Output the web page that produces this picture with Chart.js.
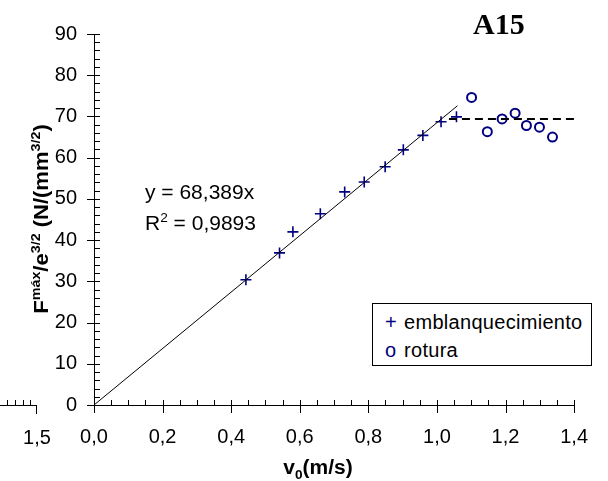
<!DOCTYPE html>
<html>
<head>
<meta charset="utf-8">
<script src="https://cdn.jsdelivr.net/npm/chart.js@4"></script>
<style>
  body { margin: 0; background: #fff; }
  #wrap { position: relative; width: 608px; height: 481px; font-family: 'Liberation Sans', Arial, sans-serif; color: #000; }
  #wrap canvas { position: absolute; left: 0; top: 0; }
  .txt { position: absolute; white-space: nowrap; line-height: 1; }
  .txt sup, .txt sub { font-size: 0.65em; line-height: 0; }
  #ytitle { left: 41px; top: 219px; font-weight: bold; font-size: 20px; transform: translate(-50%, -50%) rotate(-90deg) scaleX(1.1); }
  #xtitle { left: 318px; top: 467px; font-weight: bold; font-size: 20px; transform: translate(-50%, -50%) scaleX(1.05); }
  #plotTitle { left: 473px; top: 9px; font-family: 'Liberation Serif', 'Times New Roman', serif; font-weight: bold; font-size: 30px; }
  #eq1 { left: 145px; top: 182px; font-size: 20px; transform-origin: left; transform: scaleX(1.05); }
  #eq2 { left: 145px; top: 213px; font-size: 20px; transform-origin: left; transform: scaleX(1.05); }
  #frag { left: 37px; top: 437px; font-size: 20px; transform: translate(-50%, -50%); }
  #legend { position: absolute; left: 372px; top: 303px; width: 218px; height: 61px; border: 1px solid #000; background: #fff; font-size: 20px; }
  #legend div { position: absolute; left: 12px; white-space: nowrap; }
  #legend .lbl { letter-spacing: 0.3px; }
  #legend .mk { color: #000080; display: inline-block; width: 19px; }
</style>
</head>
<body>
<div id="wrap">
  <canvas id="chart" width="608" height="481"></canvas>
  <div class="txt" id="plotTitle">A15</div>
  <div class="txt" id="ytitle">F<sup>máx</sup>/e<sup>3/2</sup> (N/(mm<sup>3/2</sup>)</div>
  <div class="txt" id="xtitle">v<sub>0</sub>(m/s)</div>
  <div class="txt" id="eq1">y = 68,389x</div>
  <div class="txt" id="eq2">R<sup>2</sup> = 0,9893</div>
  <div class="txt" id="frag">1,5</div>
  <div id="legend">
    <div style="top:7px"><span class="mk">+</span><span class="lbl">emblanquecimiento</span></div>
    <div style="top:35px"><span class="mk">o</span><span class="lbl">rotura</span></div>
  </div>
</div>
<script>
// Datos
const blanqX = [0.443, 0.541, 0.580, 0.660, 0.731, 0.788, 0.849, 0.902, 0.959, 1.012, 1.057];
const blanqY = [30.4, 36.9, 42.0, 46.4, 51.7, 54.1, 57.8, 61.9, 65.4, 68.7, 69.9];

const roturaX = [1.101, 1.147, 1.190, 1.228, 1.261, 1.299, 1.337];
const roturaY = [74.6, 66.3, 69.4, 70.8, 67.8, 67.4, 65.0];

// linea de tendencia y meseta
const trendX = [0, 1.06];
const trendY = [0, 72.6];
const plateauX = [1.035, 1.40];
const plateauY = [69.4, 69.4];

const xTickLabels = ['0,0', '0,2', '0,4', '0,6', '0,8', '1,0', '1,2', '1,4'];
const yTickLabels = ['0', '10', '20', '30', '40', '50', '60', '70', '80', '90'];

function toPoints(xs, ys) {
    return xs.map((x, i) => ({ x: x, y: ys[i] }));
}

// ejes con marcas mayores y menores
const axisTicks = {
    id: 'axisTicks',
    beforeDatasetsDraw(chart) {
        const ctx = chart.ctx;
        const xs = chart.scales.x;
        const ys = chart.scales.y;
        const x0 = xs.getPixelForValue(0);
        const y0 = ys.getPixelForValue(0);
        ctx.save();
        ctx.strokeStyle = '#000';
        ctx.lineWidth = 1;
        ctx.beginPath();
        ctx.moveTo(x0 + 0.5, ys.getPixelForValue(90));
        ctx.lineTo(x0 + 0.5, y0 + 0.5);
        ctx.lineTo(xs.getPixelForValue(1.4), y0 + 0.5);
        ys.ticks.forEach((t, i) => {
            const p = Math.round(ys.getPixelForValue(t.value)) + 0.5;
            ctx.moveTo(i % 5 === 0 ? x0 - 7 : x0, p);
            ctx.lineTo(x0 + 6, p);
        });
        xs.ticks.forEach((t, i) => {
            const p = Math.round(xs.getPixelForValue(t.value)) + 0.5;
            ctx.moveTo(p, y0 - 5);
            ctx.lineTo(p, i % 4 === 0 ? y0 + 8 : y0);
        });
        // resto del eje de otro grafico a la izquierda
        ctx.moveTo(0, y0 + 0.5);
        ctx.lineTo(36.5, y0 + 0.5);
        [7.5, 15.5, 23.5, 30.5].forEach(p => {
            ctx.moveTo(p, y0 - 5);
            ctx.lineTo(p, y0);
        });
        ctx.moveTo(36.5, y0);
        ctx.lineTo(36.5, y0 + 9);
        ctx.stroke();
        ctx.restore();
    }
};

const tickFont = { family: "'Liberation Sans', Arial, sans-serif", size: 20 };

new Chart(document.getElementById('chart'), {
    type: 'scatter',
    data: {
        datasets: [
            {
                label: 'tendencia',
                data: toPoints(trendX, trendY),
                showLine: true,
                borderColor: '#000',
                borderWidth: 1,
                pointRadius: 0
            },
            {
                label: 'meseta',
                data: toPoints(plateauX, plateauY),
                showLine: true,
                borderColor: '#000',
                borderWidth: 2,
                borderDash: [8, 5],
                pointRadius: 0
            },
            {
                label: 'emblanquecimiento',
                data: toPoints(blanqX, blanqY),
                pointStyle: 'cross',
                pointRadius: 5.5,
                borderColor: '#000080',
                borderWidth: 1.6
            },
            {
                label: 'rotura',
                data: toPoints(roturaX, roturaY),
                pointStyle: 'circle',
                pointRadius: 4.5,
                borderColor: '#000080',
                backgroundColor: 'rgba(0,0,0,0)',
                borderWidth: 2
            }
        ]
    },
    options: {
        responsive: false,
        animation: false,
        layout: {
            padding: { left: 0, top: 34, right: 21, bottom: 0 }
        },
        plugins: {
            legend: { display: false },
            tooltip: { enabled: false }
        },
        scales: {
            x: {
                type: 'linear',
                min: 0,
                max: 1.4,
                grid: { display: false, drawTicks: false },
                border: { display: false },
                ticks: {
                    stepSize: 0.05,
                    autoSkip: false,
                    maxRotation: 0,
                    padding: 20,
                    color: '#000',
                    font: tickFont,
                    callback: function(value, index) {
                        return index % 4 === 0 ? xTickLabels[index / 4] : '';
                    }
                },
                afterFit: function(scale) {
                    scale.height = 76;
                }
            },
            y: {
                min: 0,
                max: 90,
                grid: { display: false, drawTicks: false },
                border: { display: false },
                ticks: {
                    stepSize: 2,
                    autoSkip: false,
                    padding: 17,
                    color: '#000',
                    font: tickFont,
                    callback: function(value, index) {
                        return index % 5 === 0 ? yTickLabels[index / 5] : '';
                    }
                },
                afterFit: function(scale) {
                    scale.width = 94;
                }
            }
        }
    },
    plugins: [axisTicks]
});
</script>
</body>
</html>
